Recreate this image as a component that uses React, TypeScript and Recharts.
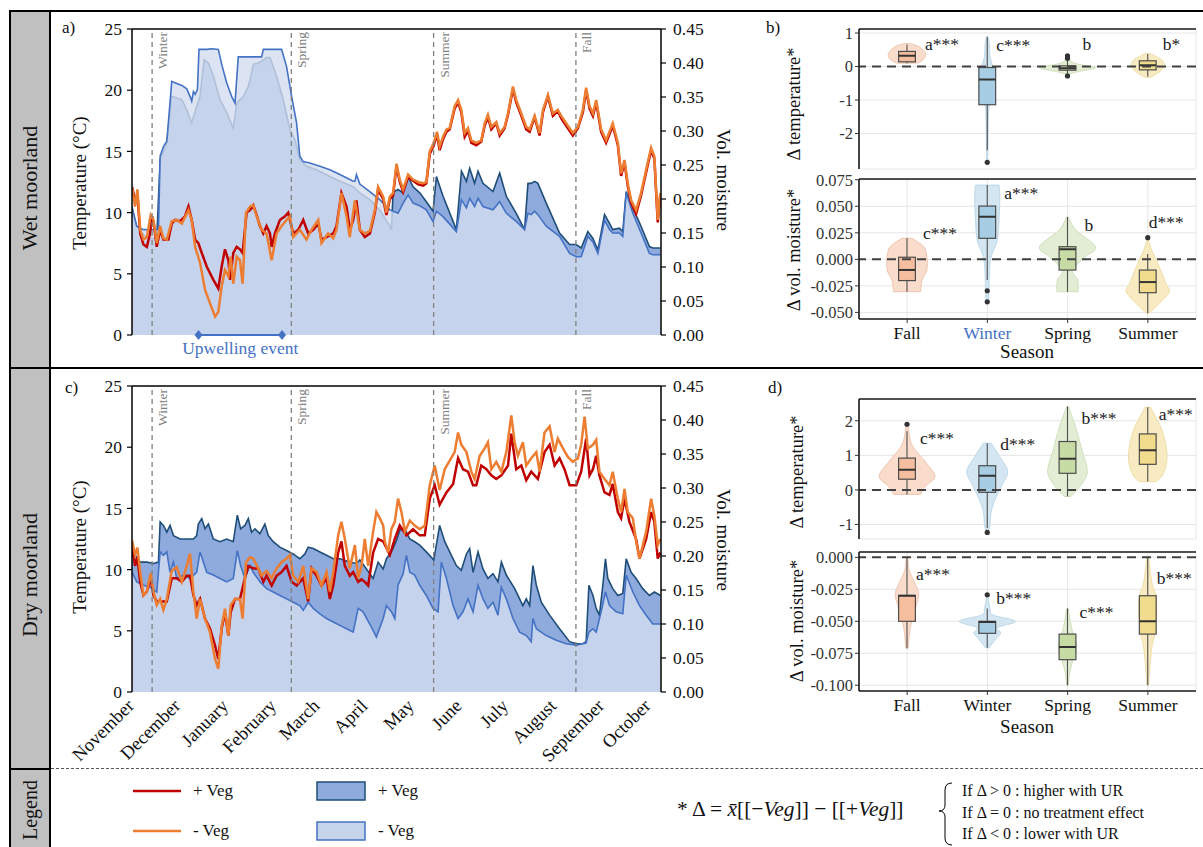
import React from "react";
import { ComposedChart, Area, Line, Bar, XAxis, YAxis, ReferenceLine, ReferenceDot, CartesianGrid } from "recharts";

const SERIF = '"Liberation Serif", "Times New Roman", serif';
const BLUE = "#4472C4";

// ---- time axis (days counted from 1 November) ----
const monthTicks = [17, 30, 61, 92, 120, 151, 181, 212, 242, 273, 304, 334];
const labelDays = [17, 47, 78, 109, 137, 168, 198, 229, 259, 290, 321, 351];
const monthNames = ["November", "December", "January", "February", "March", "April", "May", "June", "July", "August", "September", "October"];
const seasonStarts = [30, 120, 212, 304];
const seasonNames = ["Winter", "Spring", "Summer", "Fall"];
const upwellingDays = [60, 114];

// ---- wet moorland: temperature (°C) ----
const wetTempVeg = [[17,12.1],[19,11.0],[20.5,11.5],[22.3,8.3],[24.4,7.4],[26.6,7.2],[28.7,8.3],[30,9.7],[31.3,8.9],[33,7.2],[35.2,8.6],[37.3,7.8],[40.5,7.8],[42.7,9.1],[44.8,9.4],[48.1,9.3],[51.3,9.7],[53.5,10.5],[55.6,9.4],[57.8,7.8],[59.9,7.5],[62.1,6.7],[65.3,5.6],[69.6,4.5],[72.8,3.8],[75,5.6],[77.1,7.0],[79.3,6.1],[80.4,4.5],[82.5,6.7],[84.7,7.2],[86.8,7.0],[88.5,6.7],[91.1,10.0],[93.3,10.2],[95.4,10.6],[97.6,9.8],[99.7,8.9],[101.9,8.3],[104,8.9],[106.2,8.3],[107.3,7.2],[109.4,8.3],[112.6,9.4],[115.9,9.7],[118,10.0],[119.1,9.4],[121.2,8.3],[124.5,8.6],[127.7,9.4],[130.9,8.3],[134.2,8.6],[137.4,9.1],[139.5,7.8],[142.8,8.0],[147.1,8.3],[149.2,8.9],[152.4,11.6],[155.7,10.5],[157.8,8.6],[160,9.4],[162.1,11.0],[164.3,8.6],[167.5,8.0],[170.8,8.3],[174,10.0],[176.1,11.9],[179.4,11.1],[181.5,9.8],[183.7,11.1],[185.8,11.4],[188,13.8],[190.1,12.5],[192.3,11.7],[195.5,12.9],[198.7,12.6],[202,12.3],[205.2,12.2],[207.3,12.4],[209.5,14.8],[212.1,15.5],[214.2,16.4],[215.9,15.1],[218.1,16.0],[220.3,16.6],[222.4,16.8],[225.6,18.5],[227.8,19.0],[229.9,18.2],[232.1,16.2],[234.2,16.7],[236.4,15.7],[239.6,15.5],[242.8,15.8],[245,17.1],[247.1,17.8],[249.3,16.8],[252.5,17.3],[254.7,16.3],[257.9,16.9],[260.1,18.0],[263.3,20.1],[265.4,19.0],[268.7,17.9],[271.9,16.8],[274.1,16.6],[277.3,17.8],[280.5,16.3],[282.7,18.2],[285.9,19.5],[289.1,17.9],[292.3,18.3],[294.5,17.7],[297.7,17.1],[302,16.3],[305.3,16.9],[308.5,18.2],[310.6,20.0],[312.8,18.5],[315,17.9],[317.1,19.0],[320.3,16.6],[323.5,15.7],[327.8,17.1],[331.1,15.5],[333.2,13.0],[335.4,14.1],[337.5,12.2],[339.7,10.8],[342.9,9.9],[346.1,11.4],[349.4,13.3],[352.6,15.1],[354.7,14.4],[356.9,9.2],[358.6,11.5]];
const wetTempNoVeg = [[17,12.1],[19,10.5],[20.5,11.9],[22.3,8.6],[24.4,7.8],[26.6,8.0],[29.1,9.8],[30.9,9.4],[33,7.5],[35.2,8.9],[37.3,7.9],[39.5,7.8],[42.7,9.3],[45.9,9.4],[49.2,9.1],[53.5,10.2],[55.6,9.4],[57.8,7.2],[61,5.9],[64.2,3.7],[67.4,2.6],[70.7,1.5],[72.8,1.9],[75,4.0],[77.1,5.3],[79.3,4.8],[80.8,6.4],[82.5,4.2],[84.7,6.4],[86.8,6.1],[88.5,4.2],[90.7,10.0],[93.3,10.5],[95.4,10.6],[97.6,9.7],[100.8,8.6],[104,8.3],[107.3,6.1],[110.5,8.3],[113.7,8.9],[116.9,9.4],[119.1,9.7],[121.2,8.0],[125.5,8.6],[129.8,7.8],[133.1,8.6],[137.4,9.4],[139.5,7.5],[143.8,8.3],[147.1,7.9],[149.2,8.6],[152.4,11.6],[155.7,9.7],[157.8,8.0],[161.1,11.0],[164.3,8.6],[167.5,8.3],[170.8,8.5],[174,10.2],[176.1,12.1],[179.4,11.3],[181.5,10.0],[183.7,11.3],[185.8,11.6],[188,14.0],[190.1,12.7],[192.3,11.9],[195.5,13.1],[198.7,12.7],[202,12.5],[205.2,12.4],[207.3,12.5],[209.5,15.0],[212.1,15.7],[214.2,16.6],[215.9,15.4],[218.1,16.2],[220.3,16.8],[222.4,16.9],[225.6,18.7],[227.8,19.2],[229.9,18.4],[232.1,16.5],[234.2,16.9],[236.4,15.9],[239.6,15.7],[242.8,15.9],[245,17.3],[247.1,18.0],[249.3,17.0],[252.5,17.4],[254.7,16.5],[257.9,17.0],[260.1,18.1],[263.3,20.3],[265.4,19.2],[268.7,18.1],[271.9,17.0],[274.1,16.8],[277.3,17.9],[280.5,16.5],[282.7,18.4],[285.9,19.6],[289.1,18.1],[292.3,18.4],[294.5,17.9],[297.7,17.3],[302,16.5],[305.3,17.0],[308.5,18.4],[310.6,20.2],[312.8,18.7],[315,18.1],[317.1,19.2],[320.3,16.8],[323.5,15.9],[327.8,17.3],[331.1,15.7],[333.2,13.2],[335.4,14.3],[337.5,12.4],[339.7,11.0],[342.9,10.2],[346.1,11.6],[349.4,13.5],[352.6,15.3],[354.7,14.6],[356.9,9.4],[358.6,11.6]];

// ---- wet moorland: volumetric moisture ----
const wetSoilVeg = [[17,0.185],[20,0.160],[26.6,0.142],[33,0.142],[35.2,0.258],[39.5,0.282],[42.7,0.351],[49.2,0.346],[52.4,0.331],[55.6,0.312],[58.8,0.336],[61,0.351],[63.6,0.405],[66.4,0.400],[69.6,0.381],[73.9,0.346],[78.2,0.327],[82.5,0.304],[84.7,0.341],[89,0.351],[92.3,0.366],[95.5,0.398],[98.7,0.400],[104.1,0.408],[106.2,0.408],[110.5,0.381],[114.8,0.346],[119.1,0.302],[122.3,0.287],[125.5,0.258],[129.8,0.248],[136.3,0.243],[144.9,0.233],[151.4,0.226],[160,0.218],[164.3,0.209],[170.7,0.199],[177.2,0.184],[183.7,0.160],[184.7,0.155],[185.8,0.210],[189,0.214],[192.3,0.209],[195.5,0.233],[198.7,0.218],[203,0.209],[207.3,0.196],[211.6,0.182],[213.8,0.233],[218.1,0.204],[226.7,0.155],[230,0.241],[233.2,0.226],[235.3,0.245],[238.5,0.223],[240.7,0.241],[243.9,0.223],[250.4,0.211],[254.7,0.238],[259,0.204],[265.4,0.179],[270.8,0.155],[273,0.223],[275.1,0.223],[277.3,0.226],[279.4,0.223],[284.8,0.194],[293.4,0.150],[299.9,0.133],[304.2,0.133],[307.4,0.128],[311.7,0.152],[315,0.142],[318.2,0.125],[322.5,0.177],[325.7,0.164],[327.8,0.155],[332.1,0.157],[334.3,0.152],[336.5,0.211],[340.8,0.187],[346.1,0.160],[351.5,0.130],[353.7,0.128],[358.6,0.128]];
const wetSoilNoVeg = [[17,0.189],[20,0.160],[24.4,0.155],[34.1,0.155],[35.2,0.263],[37.3,0.277],[39.5,0.285],[42.7,0.373],[44.8,0.371],[49.2,0.367],[52.4,0.362],[54.5,0.351],[55.6,0.344],[56.7,0.358],[57.8,0.354],[59.3,0.361],[60.3,0.420],[65.3,0.420],[68.5,0.421],[72.8,0.420],[75,0.398],[78.2,0.371],[81.4,0.351],[83.6,0.341],[85.7,0.409],[91.1,0.409],[100.8,0.409],[101.9,0.420],[113.7,0.420],[116.9,0.395],[120.2,0.351],[123.4,0.312],[125.5,0.263],[127.7,0.255],[132,0.253],[138.5,0.248],[144.9,0.243],[151.4,0.236],[160,0.226],[161.1,0.226],[162.1,0.236],[164.3,0.222],[170.7,0.211],[177.2,0.199],[183.7,0.184],[189,0.179],[192.3,0.194],[195.5,0.206],[198.7,0.194],[203,0.190],[207.3,0.184],[211.6,0.167],[213.8,0.182],[218.1,0.174],[226.7,0.152],[230,0.199],[233.2,0.187],[235.3,0.201],[238.5,0.189],[240.7,0.201],[243.9,0.189],[250.4,0.184],[254.7,0.196],[259,0.179],[265.4,0.167],[270.8,0.155],[273,0.179],[275.1,0.177],[277.3,0.182],[279.4,0.177],[284.8,0.160],[293.4,0.145],[299.9,0.120],[304.2,0.115],[307.4,0.115],[311.7,0.145],[315,0.137],[318.2,0.120],[322.5,0.169],[325.7,0.155],[327.8,0.150],[332.1,0.150],[334.3,0.145],[336.5,0.209],[340.8,0.179],[346.1,0.150],[351.5,0.120],[353.7,0.118],[358.6,0.118]];

// ---- dry moorland: temperature (°C) ----
const dryTempVeg = [[17,12.0],[19,10.3],[20.5,11.0],[22.3,9.0],[24.4,7.9],[26.6,8.2],[29.1,9.3],[30.9,7.9],[33,7.4],[35.2,7.4],[39.5,7.4],[42.7,9.3],[45.9,9.3],[49.2,9.0],[52.4,9.5],[54.5,9.5],[56.7,7.9],[58.8,7.1],[61,7.6],[64.2,6.0],[67.4,5.2],[70.7,3.8],[72.8,2.7],[75,5.2],[77.1,6.5],[79.3,4.6],[80.8,6.5],[83.6,7.6],[86.8,7.6],[90,9.3],[92.2,10.3],[95.4,10.1],[98.6,10.1],[101.9,9.0],[104,9.5],[107.3,8.7],[110.5,9.5],[113.7,9.8],[116.9,10.3],[120.2,9.0],[123.4,8.7],[127.7,9.3],[130.9,7.4],[133.1,10.1],[136.3,9.5],[139.5,8.7],[142.8,9.3],[144.9,7.6],[147.1,8.7],[150.3,11.4],[152.4,12.3],[154.6,10.3],[157.8,9.5],[160,9.8],[163.2,9.0],[165.4,9.2],[167.5,9.0],[169.7,8.7],[172.9,11.4],[176.1,12.5],[179.4,12.3],[183.7,11.2],[186.9,12.5],[190.1,13.6],[194.4,12.8],[198.7,13.3],[203,12.8],[206.3,12.8],[209.5,15.8],[212.7,16.9],[215.9,15.3],[220.3,16.3],[224.6,17.0],[227.8,19.1],[231,18.2],[234.2,18.0],[237.5,16.9],[239.6,16.9],[242.8,18.5],[246.1,18.2],[249.3,17.7],[252.5,17.4],[255.8,17.7],[260.1,18.5],[262.2,21.1],[265.4,18.2],[268.7,18.5],[271.9,17.3],[275.1,18.0],[279.4,17.4],[283.7,19.6],[287,20.2],[290.2,18.5],[293.4,19.1],[296.6,18.2],[299.9,16.9],[304.2,16.9],[307.4,18.0],[310.6,20.7],[312.8,17.7],[315,18.2],[317.1,19.3],[319.2,17.7],[322.5,16.3],[325.7,16.1],[327.8,17.0],[331.1,14.7],[333.2,14.2],[335.4,15.8],[338.6,13.9],[342.9,12.5],[345.1,10.9],[349.4,12.5],[352.6,14.7],[354.7,13.9],[356.9,10.9],[358.6,11.4]];
const dryTempNoVeg = [[17,12.4],[19,11.2],[20.5,11.8],[22.3,9.8],[24.4,7.9],[26.6,8.2],[29.1,9.7],[30.9,8.2],[33,7.1],[35.2,7.6],[37.3,6.7],[39.5,7.6],[42.7,9.9],[45.9,10.2],[49.2,9.0],[52.4,10.3],[54.5,11.3],[56.7,8.2],[58.8,6.0],[61,7.6],[64.2,6.0],[67.4,4.9],[70.7,2.7],[72.8,1.9],[75,5.4],[77.1,6.8],[79.3,4.6],[80.8,7.1],[83.6,7.6],[86.8,7.6],[88.5,6.0],[90.7,10.6],[93.3,11.0],[95.4,10.9],[98.6,10.1],[100.8,9.5],[104,9.9],[107.3,9.3],[110.5,10.1],[113.7,10.6],[116.9,10.9],[119.1,11.2],[121.2,9.5],[124.5,9.0],[127.7,10.3],[130.9,7.6],[133.1,10.1],[136.3,9.8],[139.5,8.7],[142.8,9.8],[144.9,8.2],[147.1,9.8],[150.3,12.8],[152.4,13.9],[154.6,12.5],[157.8,10.1],[161.1,12.0],[163.2,9.3],[165.4,10.3],[167.5,12.5],[169.7,10.3],[172.9,13.1],[175,14.7],[177.2,14.2],[179.4,13.6],[180.4,12.3],[182.6,11.4],[184.7,13.3],[186.9,13.9],[189,15.8],[191.2,14.7],[193.4,13.1],[196.6,14.0],[199.8,13.6],[203,13.3],[206.3,13.6],[209.5,16.9],[212.7,18.5],[215.9,16.5],[219.2,18.2],[222.4,18.9],[225.6,19.6],[227.8,21.2],[229.9,20.2],[233.2,19.6],[236.4,18.0],[238.5,17.4],[241.8,19.3],[245,19.9],[247.1,20.4],[249.3,18.2],[252.5,18.8],[255.8,18.0],[259,19.6],[262.2,22.6],[264.4,20.4],[266.5,19.3],[269.7,20.4],[271.9,18.5],[275.1,19.1],[278.4,19.6],[280.5,18.0],[283.7,21.2],[287,21.7],[290.2,19.6],[292.3,20.7],[295.6,19.9],[298.8,19.2],[302,18.8],[305.3,19.1],[307.4,20.2],[309.6,22.5],[311.7,19.9],[315,20.2],[317.1,20.6],[319.2,18.0],[322.5,17.4],[325.7,16.9],[327.8,18.0],[331.1,15.8],[333.2,14.7],[335.4,16.6],[337.5,14.7],[340.8,14.2],[342.9,12.3],[345.1,10.9],[349.4,13.1],[352.6,15.8],[354.7,14.4],[356.9,12.0],[358.6,12.5]];

// ---- dry moorland: volumetric moisture ----
const drySoilVeg = [[17,0.208],[20.1,0.198],[22.3,0.191],[26.6,0.191],[30.9,0.189],[34.1,0.191],[35.2,0.250],[37.3,0.245],[39.5,0.235],[41.6,0.245],[43.8,0.230],[48.1,0.225],[52.4,0.225],[56.7,0.225],[58.8,0.230],[59.9,0.247],[62.1,0.255],[64.2,0.240],[66.4,0.247],[69.6,0.225],[73.9,0.221],[78.2,0.225],[82.5,0.221],[85.1,0.260],[87.2,0.240],[90,0.245],[92.2,0.255],[94.3,0.235],[96.5,0.240],[99.7,0.233],[102.9,0.247],[105.1,0.230],[108.3,0.221],[112.6,0.213],[116.9,0.208],[121.2,0.203],[125.5,0.196],[128.8,0.203],[130.9,0.213],[134.2,0.211],[138.5,0.206],[142.8,0.201],[147.1,0.196],[151.4,0.196],[157.8,0.191],[162.1,0.189],[164.3,0.194],[168.6,0.181],[172.9,0.167],[176.1,0.191],[179.4,0.181],[181.5,0.196],[184.7,0.206],[188,0.223],[190.1,0.238],[193.4,0.240],[196.6,0.225],[199.8,0.221],[203,0.216],[207.3,0.206],[212.1,0.194],[215.9,0.245],[219.2,0.221],[222.4,0.206],[226.7,0.186],[229.9,0.179],[233.2,0.203],[235.3,0.211],[237.5,0.176],[240.7,0.206],[243.9,0.181],[247.1,0.167],[250.4,0.174],[253.6,0.162],[255.8,0.191],[259,0.172],[264.4,0.152],[269.7,0.127],[271.9,0.137],[274.1,0.127],[276.2,0.186],[278.4,0.157],[281.6,0.132],[287,0.113],[293.4,0.093],[299.9,0.074],[304.2,0.071],[308.5,0.071],[310.6,0.074],[312.4,0.157],[315,0.142],[317.1,0.123],[319.2,0.113],[321.4,0.157],[323.1,0.196],[324.6,0.167],[327.8,0.152],[331.1,0.142],[334.3,0.145],[336.5,0.196],[339.7,0.176],[342.9,0.167],[347.2,0.152],[351.5,0.142],[354.7,0.147],[358.6,0.142]];
const drySoilNoVeg = [[17,0.176],[20.1,0.162],[24.4,0.157],[28.7,0.154],[33,0.147],[35.2,0.206],[37.3,0.201],[39.5,0.206],[41.6,0.176],[43.8,0.191],[45.9,0.167],[50.2,0.172],[54.5,0.167],[58.8,0.176],[61,0.206],[65.3,0.176],[69.6,0.172],[73.9,0.167],[78.2,0.162],[82.5,0.167],[85.1,0.208],[87.2,0.186],[90,0.167],[93.3,0.186],[95.4,0.176],[99.7,0.162],[104,0.152],[108.3,0.147],[112.6,0.142],[116.9,0.137],[121.2,0.132],[125.5,0.127],[127.7,0.120],[130.9,0.132],[134.2,0.123],[138.5,0.115],[142.8,0.108],[147.1,0.103],[151.4,0.098],[155.7,0.093],[160,0.088],[163.2,0.123],[166.4,0.118],[170.7,0.100],[175,0.081],[179.4,0.108],[181.5,0.127],[184.7,0.118],[186.9,0.108],[189,0.157],[192.3,0.174],[194.4,0.201],[196.6,0.176],[199.8,0.172],[203,0.157],[207.3,0.142],[211.6,0.123],[214.9,0.118],[217,0.191],[220.3,0.167],[224.6,0.127],[227.8,0.108],[231,0.118],[234.2,0.137],[237.5,0.118],[240.7,0.157],[243.9,0.137],[247.1,0.123],[250.4,0.132],[253.6,0.113],[255.8,0.154],[259,0.137],[263.3,0.108],[267.6,0.088],[271.9,0.083],[275.1,0.074],[276.2,0.108],[278.4,0.093],[284.8,0.083],[291.3,0.076],[297.7,0.071],[304.2,0.069],[310.6,0.072],[312.4,0.088],[315,0.093],[317.1,0.088],[320.3,0.118],[323.1,0.147],[325.7,0.127],[330,0.118],[334.3,0.115],[336.5,0.172],[340.8,0.147],[345.1,0.127],[349.4,0.113],[353.7,0.100],[358.6,0.100]];

// ---- seasonal differences (violins: [value, relative half width]) ----
const seasons = ["Fall", "Winter", "Spring", "Summer"];

const wetDTempViolin = [
  [[0.69,0.08],[0.62,0.36],[0.52,0.54],[0.37,0.67],[0.22,0.6],[0.12,0.42],[0.1,0.3]],
  [[0.9,0.02],[0.7,0.07],[0.3,0.1],[0.05,0.18],[-0.2,0.25],[-0.5,0.25],[-0.9,0.2],[-1.2,0.07],[-1.6,0.04],[-2.2,0.03],[-2.86,0.02]],
  [[0.32,0.03],[0.2,0.08],[0.1,0.25],[0.02,0.7],[-0.03,1.0],[-0.08,0.85],[-0.15,0.4],[-0.23,0.05]],
  [[0.39,0.08],[0.3,0.3],[0.2,0.5],[0.1,0.58],[0.0,0.6],[-0.1,0.5],[-0.2,0.35],[-0.28,0.2],[-0.33,0.05]],
];
const wetDTempBox = [[0.14,0.32,0.45],[-1.14,-0.39,-0.03],[-0.11,-0.05,0.02],[-0.1,0.04,0.17]];
const wetDTempWhisker = [[0.1,0.66],[-2.5,0.88],[-0.2,0.2],[-0.3,0.37]];
const wetDTempOutliers = [[], [-2.86], [0.32,0.25,-0.28], []];
const wetDTempLetters = ["a***", "c***", "b", "b*"];
const wetDTempLetterAt = [0.67, 0.64, 0.67, 0.69];

const wetDSoilViolin = [
  [[0.0198,0.18],[0.012,0.6],[0.0025,0.71],[-0.01,0.71],[-0.0195,0.54],[-0.0305,0.48]],
  [[0.070,0.42],[0.059,0.45],[0.037,0.42],[0.018,0.36],[0.0057,0.18],[-0.004,0.1],[-0.02,0.07],[-0.038,0.05]],
  [[0.040,0.03],[0.0276,0.3],[0.0119,1.0],[0.0025,0.65],[-0.0101,0.18],[-0.0195,0.36],[-0.0305,0.38]],
  [[0.018,0.03],[0.0088,0.14],[-0.0038,0.36],[-0.0226,0.65],[-0.0305,0.77],[-0.0415,0.42],[-0.0509,0.03]],
];
const wetDSoilBox = [[-0.02,-0.01,0.002],[0.0198,0.0402,0.0502],[-0.0101,0.0095,0.0119],[-0.0314,-0.0214,-0.0101]];
const wetDSoilWhisker = [[-0.0305,0.0198],[-0.0195,0.070],[-0.0305,0.040],[-0.0509,0.005]];
const wetDSoilOutliers = [[], [-0.0296,-0.040], [], [0.0204]];
const wetDSoilLetters = ["c***", "a***", "b", "d***"];
const wetDSoilLetterAt = [0.0245, 0.0628, 0.0323, 0.0354];

const dryDTempViolin = [
  [[1.86,0.03],[1.3,0.18],[0.82,0.65],[0.39,1.0],[0.10,0.65],[-0.13,0.48]],
  [[1.35,0.14],[0.92,0.48],[0.53,0.73],[0.14,0.53],[-0.24,0.3],[-0.63,0.14],[-1.0,0.1],[-1.2,0.04]],
  [[2.41,0.03],[1.79,0.3],[1.11,0.53],[0.53,0.71],[0.14,0.48],[-0.19,0.12]],
  [[2.39,0.1],[2.08,0.3],[1.79,0.48],[1.3,0.65],[0.82,0.68],[0.43,0.53],[0.24,0.3]],
];
const dryDTempBox = [[0.31,0.58,0.92],[-0.07,0.41,0.70],[0.48,0.90,1.40],[0.74,1.15,1.62]];
const dryDTempWhisker = [[-0.13,1.7],[-1.1,1.35],[-0.19,2.41],[0.24,2.39]];
const dryDTempOutliers = [[1.90], [-1.23], [], []];
const dryDTempLetters = ["c***", "d***", "b***", "a***"];
const dryDTempLetterAt = [1.50, 1.32, 2.08, 2.19];

const dryDSoilViolin = [
  [[0,0.03],[-0.01,0.08],[-0.021,0.3],[-0.029,0.42],[-0.04,0.3],[-0.055,0.12],[-0.071,0.04]],
  [[-0.032,0.03],[-0.04,0.1],[-0.045,0.2],[-0.05,1.0],[-0.055,0.36],[-0.059,0.48],[-0.064,0.3],[-0.0707,0.06]],
  [[-0.04,0.03],[-0.05,0.1],[-0.058,0.18],[-0.07,0.33],[-0.08,0.2],[-0.09,0.08],[-0.1,0.03]],
  [[0,0.03],[-0.02,0.15],[-0.03,0.3],[-0.045,0.32],[-0.06,0.25],[-0.07,0.15],[-0.085,0.08],[-0.1,0.03]],
];
const dryDSoilBox = [[-0.05,-0.03,-0.0298],[-0.0594,-0.0505,-0.05],[-0.08,-0.07,-0.06],[-0.06,-0.05,-0.03]];
const dryDSoilWhisker = [[-0.071,0],[-0.0707,-0.04],[-0.1,-0.04],[-0.1,0]];
const dryDSoilOutliers = [[], [-0.0293], [], []];
const dryDSoilLetters = ["a***", "b***", "c***", "b***"];
const dryDSoilLetterAt = [-0.0131, -0.0319, -0.0429, -0.0162];

// ---- styling ----
const SEASON_STYLE = [
  { violin: "#F9DCCB", edge: "#EBC3AD", box: "#F4BE9F" },
  { violin: "#D4E6F1", edge: "#B9D5E6", box: "#A6CDE3" },
  { violin: "#E3EDD4", edge: "#CCDDB8", box: "#C7DCA5" },
  { violin: "#F8EBC2", edge: "#EBDBA3", box: "#F1DB8C" },
];
const AXIS = { stroke: "#000", strokeWidth: 1.5 };
const TICK = { stroke: "#000", strokeWidth: 1.2 };
const serifStyle = { fontFamily: SERIF };

function mergeSeries(series: Record<string, number[][]>) {
  const byDay = new Map<number, any>();
  Object.entries(series).forEach(([key, pts]) =>
    pts.forEach(([day, v]) => {
      const row = byDay.get(day) ?? { day };
      row[key] = v;
      byDay.set(day, row);
    })
  );
  return [...byDay.values()].sort((a, b) => a.day - b.day);
}

const wetRows = mergeSeries({ tempVeg: wetTempVeg, tempNoVeg: wetTempNoVeg, soilVeg: wetSoilVeg, soilNoVeg: wetSoilNoVeg });
const dryRows = mergeSeries({ tempVeg: dryTempVeg, tempNoVeg: dryTempNoVeg, soilVeg: drySoilVeg, soilNoVeg: drySoilNoVeg });

function buildViolinRows(violin: number[][][], box: number[][], whisker: number[][], outliers: number[][], letters: string[], letterAt: number[]) {
  return seasons.map((season, i) => {
    const vals = [...violin[i].map((p) => p[0]), ...whisker[i], ...outliers[i], ...box[i]];
    return {
      season,
      span: [Math.min(...vals), Math.max(...vals)],
      violin: [...violin[i]].sort((a, b) => b[0] - a[0]),
      box: box[i],
      whisker: whisker[i],
      outliers: outliers[i],
      letter: letters[i],
      letterAt: letterAt[i],
    };
  });
}

const bTempRows = buildViolinRows(wetDTempViolin, wetDTempBox, wetDTempWhisker, wetDTempOutliers, wetDTempLetters, wetDTempLetterAt);
const bSoilRows = buildViolinRows(wetDSoilViolin, wetDSoilBox, wetDSoilWhisker, wetDSoilOutliers, wetDSoilLetters, wetDSoilLetterAt);
const dTempRows = buildViolinRows(dryDTempViolin, dryDTempBox, dryDTempWhisker, dryDTempOutliers, dryDTempLetters, dryDTempLetterAt);
const dSoilRows = buildViolinRows(dryDSoilViolin, dryDSoilBox, dryDSoilWhisker, dryDSoilOutliers, dryDSoilLetters, dryDSoilLetterAt);

function smooth(pts: number[][]) {
  let d = "";
  for (let i = 0; i < pts.length - 1; i++) {
    const p0 = pts[i - 1] || pts[i];
    const p1 = pts[i];
    const p2 = pts[i + 1];
    const p3 = pts[i + 2] || p2;
    const c1x = p1[0] + (p2[0] - p0[0]) / 6;
    const c1y = p1[1] + (p2[1] - p0[1]) / 6;
    const c2x = p2[0] - (p3[0] - p1[0]) / 6;
    const c2y = p2[1] - (p3[1] - p1[1]) / 6;
    d += ` C${c1x},${c1y} ${c2x},${c2y} ${p2[0]},${p2[1]}`;
  }
  return d;
}

const makeViolinShape = (letterShift: number[]) => (props: any) => {
  const { x, y, width, height, payload } = props;
  const i = seasons.indexOf(payload.season);
  const st = SEASON_STYLE[i];
  const [lo, hi] = payload.span;
  const top = Math.min(y, y + height);
  const bot = Math.max(y, y + height);
  const py = (v: number) => top + ((hi - v) / (hi - lo)) * (bot - top);
  const cx = x + width / 2;
  const mh = width * 0.35;
  const right = payload.violin.map(([v, w]: number[]) => [cx + w * mh, py(v)]);
  const left = [...payload.violin].reverse().map(([v, w]: number[]) => [cx - w * mh, py(v)]);
  const path = `M${right[0][0]},${right[0][1]}${smooth(right)} L${left[0][0]},${left[0][1]}${smooth(left)} Z`;
  const bw = width * 0.21;
  const [q1, med, q3] = payload.box;
  return (
    <g>
      <path d={path} fill={st.violin} stroke={st.edge} strokeWidth={0.9} />
      <line x1={cx} x2={cx} y1={py(payload.whisker[1])} y2={py(payload.whisker[0])} stroke="#4d4d4d" strokeWidth={1.1} />
      <rect x={cx - bw / 2} y={py(q3)} width={bw} height={Math.max(py(q1) - py(q3), 1)} fill={st.box} stroke="#4d4d4d" strokeWidth={1.2} />
      <line x1={cx - bw / 2} x2={cx + bw / 2} y1={py(med)} y2={py(med)} stroke="#333" strokeWidth={2} />
      {payload.outliers.map((o: number, k: number) => (
        <circle key={k} cx={cx} cy={py(o)} r={2.6} fill="#333" />
      ))}
      <text x={cx + letterShift[i]} y={py(payload.letterAt)} dy="0.35em" fontSize={17.5} style={serifStyle} fill="#1a1a1a">
        {payload.letter}
      </text>
    </g>
  );
};

// axis tick text in the serif face (value formatted here, since custom ticks get raw values)
const makeTick = (fontSize: number, fmt: (v: number) => string, fill = "#111") => (p: any) => (
  <text x={p.x} y={p.y} dy="0.35em" textAnchor={p.textAnchor} fontSize={fontSize} fill={fill} style={serifStyle}>
    {fmt(p.payload.value)}
  </text>
);

const SeasonLabel = (props: any) => {
  const { viewBox, text } = props;
  const tx = viewBox.x + 15;
  const ty = viewBox.y + 3;
  return (
    <text x={tx} y={ty} transform={`rotate(-90 ${tx} ${ty})`} textAnchor="end" fontSize={13.5} fill="#7f7f7f" style={serifStyle}>
      {text}
    </text>
  );
};

const UpwellingLabel = (props: any) => {
  const { viewBox } = props;
  return (
    <text x={viewBox.x + viewBox.width / 2} y={viewBox.y + 19} textAnchor="middle" fontSize={17.5} fill={BLUE} style={serifStyle}>
      Upwelling event
    </text>
  );
};

const MonthTick = (props: any) => {
  const { x, y, payload } = props;
  const name = monthNames[labelDays.indexOf(payload.value)];
  const tx = x + 3;
  const ty = y + 13;
  return (
    <text x={tx} y={ty} transform={`rotate(-45 ${tx} ${ty})`} textAnchor="end" fontSize={18.5} style={serifStyle} fill="#111">
      {name}
    </text>
  );
};

const Diamond = (props: any) => {
  const { cx, cy } = props;
  return <path d={`M${cx},${cy - 5}L${cx + 4},${cy}L${cx},${cy + 5}L${cx - 4},${cy}Z`} fill={BLUE} />;
};

const leftTick = makeTick(17.5, (v) => String(v));
const rightTick = makeTick(17.5, (v) => v.toFixed(2));

function SeriesChart({ rows, showMonths, upwelling }: { rows: any[]; showMonths: boolean; upwelling: boolean }) {
  return (
    <ComposedChart width={720} height={showMonths ? 396 : 351} data={rows} margin={{ top: 15, right: 55, left: 0, bottom: showMonths ? 0 : 30 }}>
      <XAxis xAxisId="d" dataKey="day" type="number" domain={[17, 359]} allowDataOverflow ticks={monthTicks} interval={0} tick={false} tickSize={5} height={0} axisLine={AXIS} tickLine={TICK} />
      <XAxis xAxisId="lbl" dataKey="day" type="number" domain={[17, 359]} allowDataOverflow ticks={labelDays} interval={0} tick={showMonths ? <MonthTick /> : false} axisLine={false} tickLine={false} tickSize={0} height={showMonths ? 75 : 0} />
      <YAxis yAxisId="t" type="number" domain={[0, 25]} ticks={[0, 5, 10, 15, 20, 25]} width={76} tickSize={5} tickMargin={5} tick={leftTick} axisLine={AXIS} tickLine={TICK} />
      <YAxis yAxisId="m" orientation="right" type="number" domain={[0, 0.45]} ticks={[0, 0.05, 0.1, 0.15, 0.2, 0.25, 0.3, 0.35, 0.4, 0.45]} width={60} tickSize={5} tickMargin={7} tick={rightTick} axisLine={AXIS} tickLine={TICK} />
      <Area xAxisId="lbl" yAxisId="m" type="linear" dataKey="soilVeg" connectNulls fill="#8FAADC" fillOpacity={1} stroke="#1F4E79" strokeWidth={1.6} isAnimationActive={false} />
      <Area xAxisId="d" yAxisId="m" type="linear" dataKey="soilNoVeg" connectNulls fill="rgb(211,221,240)" fillOpacity={0.8} stroke={BLUE} strokeWidth={1.6} isAnimationActive={false} />
      <Line xAxisId="d" yAxisId="t" type="linear" dataKey="tempVeg" connectNulls stroke="#C00000" strokeWidth={2.5} dot={false} isAnimationActive={false} />
      <Line xAxisId="d" yAxisId="t" type="linear" dataKey="tempNoVeg" connectNulls stroke="#ED7D31" strokeWidth={2.5} dot={false} isAnimationActive={false} />
      {seasonStarts.map((d, i) => (
        <ReferenceLine key={d} xAxisId="d" yAxisId="t" x={d} stroke="#808080" strokeWidth={1.3} strokeDasharray="5 4" label={<SeasonLabel text={seasonNames[i]} />} />
      ))}
      <ReferenceLine xAxisId="d" yAxisId="t" y={25} stroke="#000" strokeWidth={1.5} />
      {upwelling && (
        <ReferenceLine
          xAxisId="d"
          yAxisId="t"
          segment={[{ x: upwellingDays[0], y: 0 }, { x: upwellingDays[1], y: 0 }]}
          stroke={BLUE}
          strokeWidth={2}
          label={<UpwellingLabel />}
        />
      )}
      {upwelling && upwellingDays.map((d) => <ReferenceDot key={d} xAxisId="d" yAxisId="t" x={d} y={0} r={4} shape={<Diamond />} />)}
    </ComposedChart>
  );
}

function ViolinChart(props: { rows: any[]; domain: number[]; ticks: number[]; fmt: (v: number) => string; height: number; marginTop: number; showLabels: boolean; winterBlue?: boolean; letterShift: number[] }) {
  const { rows, domain, ticks, fmt, height, marginTop, showLabels, winterBlue, letterShift } = props;
  const SeasonTick = (p: any) => (
    <text x={p.x} y={p.y + 14} textAnchor="middle" fontSize={17.5} style={serifStyle} fill={winterBlue && p.payload.value === "Winter" ? BLUE : "#111"}>
      {p.payload.value}
    </text>
  );
  return (
    <ComposedChart width={443} height={height} data={rows} margin={{ top: marginTop, right: 7, left: 0, bottom: showLabels ? 0 : 6 }} barCategoryGap={0}>
      <CartesianGrid stroke="#E6E6E6" strokeWidth={1} />
      <XAxis dataKey="season" type="category" padding={{ left: 8, right: 8 }} interval={0} tickSize={4} tickLine={{ stroke: "#333" }} axisLine={{ stroke: "#1a1a1a", strokeWidth: 1.6 }} tick={showLabels ? <SeasonTick /> : false} height={showLabels ? 40 : 0} />
      <YAxis type="number" domain={domain} ticks={ticks} allowDataOverflow width={99} tickSize={4} tickMargin={2} tick={makeTick(16.5, fmt, "#333")} tickLine={{ stroke: "#333" }} axisLine={{ stroke: "#1a1a1a", strokeWidth: 1.6 }} />
      <YAxis yAxisId="r" orientation="right" type="number" domain={domain} allowDataOverflow width={0} tick={false} tickLine={false} axisLine={{ stroke: "#1a1a1a", strokeWidth: 1.6 }} />
      <Bar dataKey="span" shape={makeViolinShape(letterShift)} isAnimationActive={false} />
      <ReferenceLine yAxisId="r" y={0} stroke="#404040" strokeWidth={2} strokeDasharray="9 6" />
      <ReferenceLine yAxisId="r" y={domain[1]} stroke="#1a1a1a" strokeWidth={1.6} />
    </ComposedChart>
  );
}

const abs = (left: number, top: number, extra: React.CSSProperties = {}): React.CSSProperties => ({ position: "absolute", left, top, ...extra });

function VText({ x, y, text, size, angle = -90, color = "#111" }: { x: number; y: number; text: React.ReactNode; size: number; angle?: number; color?: string }) {
  return (
    <div style={abs(x, y, { transform: `translate(-50%, -50%) rotate(${angle}deg)`, fontSize: size, whiteSpace: "nowrap", color, lineHeight: 1 })}>{text}</div>
  );
}

const fmt3 = (v: number) => v.toFixed(3);
const fmt0 = (v: number) => String(v);

export default function App() {
  return (
    <div style={{ position: "absolute", left: 0, top: 0, width: 1203, height: 847, background: "#fff", fontFamily: SERIF, overflow: "hidden", color: "#111" }}>
      {/* row strip and frame */}
      <div style={abs(10, 11, { width: 40, height: 836, background: "#C0C0C0" })} />
      <div style={abs(10, 10, { width: 1193, height: 2, background: "#000" })} />
      <div style={abs(10, 367, { width: 1193, height: 2, background: "#000" })} />
      <div style={abs(9, 10, { width: 2, height: 837, background: "#000" })} />
      <div style={abs(49, 10, { width: 2, height: 837, background: "#000" })} />
      <div style={abs(10, 768, { width: 40, height: 1.5, background: "#000" })} />
      <div style={abs(51, 768, { width: 1152, height: 0, borderTop: "1px dashed #555" })} />

      <VText x={30} y={188} text="Wet moorland" size={22} />
      <VText x={30} y={575} text="Dry moorland" size={22} />
      <VText x={30} y={810} text="Legend" size={20} />

      {/* panel labels */}
      <div style={abs(62, 18, { fontSize: 17 })}>a)</div>
      <div style={abs(766, 18, { fontSize: 17 })}>b)</div>
      <div style={abs(65, 378, { fontSize: 17 })}>c)</div>
      <div style={abs(768, 378, { fontSize: 17 })}>d)</div>

      {/* time series panels */}
      <div style={abs(56, 14)}>
        <SeriesChart rows={wetRows} showMonths={false} upwelling />
      </div>
      <div style={abs(56, 371)}>
        <SeriesChart rows={dryRows} showMonths upwelling={false} />
      </div>
      <VText x={79} y={183} text="Temperature (°C)" size={19} />
      <VText x={723} y={180} text="Vol. moisture" size={19} angle={90} />
      <VText x={79} y={547} text="Temperature (°C)" size={19} />
      <VText x={723} y={540} text="Vol. moisture" size={19} angle={90} />

      {/* seasonal difference panels */}
      <div style={abs(760, 14)}>
        <ViolinChart rows={bTempRows} domain={[-3.06, 1.12]} ticks={[-3, -2, -1, 0, 1]} fmt={fmt0} height={161} marginTop={15} showLabels={false} letterShift={[18, 9, 15, 15]} />
      </div>
      <div style={abs(760, 170)}>
        <ViolinChart rows={bSoilRows} domain={[-0.0562, 0.0757]} ticks={[-0.05, -0.025, 0, 0.025, 0.05, 0.075]} fmt={fmt3} height={189} marginTop={9} showLabels winterBlue letterShift={[16, 17, 17, 1]} />
      </div>
      <div style={abs(760, 384)}>
        <ViolinChart rows={dTempRows} domain={[-1.42, 2.63]} ticks={[-1, 0, 1, 2]} fmt={fmt0} height={161} marginTop={15} showLabels={false} letterShift={[13, 13, 14, 11]} />
      </div>
      <div style={abs(760, 543)}>
        <ViolinChart rows={dSoilRows} domain={[-0.1045, 0.0042]} ticks={[-0.1, -0.075, -0.05, -0.025, 0]} fmt={fmt3} height={188} marginTop={9} showLabels letterShift={[9, 9, 12, 9]} />
      </div>
      <VText x={794} y={104} text="Δ temperature*" size={18.5} />
      <VText x={794} y={250} text="Δ vol. moisture*" size={18.5} />
      <VText x={797} y={472} text="Δ temperature*" size={18.5} />
      <VText x={797} y={621} text="Δ vol. moisture*" size={18.5} />
      <VText x={1027} y={351} text="Season" size={19} angle={0} />
      <VText x={1027} y={726} text="Season" size={19} angle={0} />

      {/* legend */}
      <svg style={abs(0, 760)} width={1203} height={87}>
        <line x1={133} x2={181} y1={31} y2={31} stroke="#C00000" strokeWidth={2.4} />
        <line x1={133} x2={181} y1={71} y2={71} stroke="#ED7D31" strokeWidth={2.4} />
        <rect x={317} y={22} width={48} height={18} fill="#8FAADC" stroke="#1F4E79" strokeWidth={1.5} />
        <rect x={317} y={62} width={48} height={18} fill="#C5D3EB" stroke={BLUE} strokeWidth={1.5} />
        <path d="M952,23 Q945,23 945,30 L945,45 Q945,51 939,51 Q945,51 945,57 L945,78 Q945,85 952,85" fill="none" stroke="#000" strokeWidth={1} />
      </svg>
      <div style={abs(193, 781, { fontSize: 17 })}>+ Veg</div>
      <div style={abs(193, 821, { fontSize: 17 })}>- Veg</div>
      <div style={abs(378, 781, { fontSize: 17 })}>+ Veg</div>
      <div style={abs(378, 821, { fontSize: 17 })}>- Veg</div>
      <div style={abs(677, 797, { fontSize: 21.5, whiteSpace: "nowrap" })}>
        * Δ = <i>x̄</i>[[−<i>Veg</i>]] − [[+<i>Veg</i>]]
      </div>
      <div style={abs(962, 780, { fontSize: 16, lineHeight: "21.5px", whiteSpace: "nowrap" })}>
        <div>If Δ &gt; 0 : higher with UR</div>
        <div>If Δ = 0 : no treatment effect</div>
        <div>If Δ &lt; 0 : lower with UR</div>
      </div>
    </div>
  );
}
